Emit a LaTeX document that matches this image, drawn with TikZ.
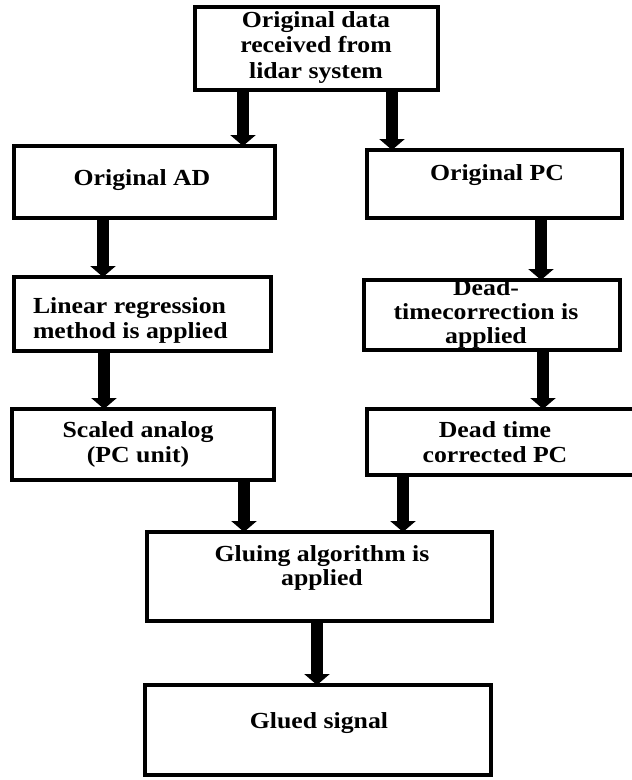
\documentclass[tikz,border=0pt]{standalone}
\usepackage{fontspec}
\setmainfont{Liberation Serif}[FakeStretch=1.12]
\usetikzlibrary{arrows.meta}
\begin{document}
\begin{tikzpicture}[x=1pt,y=-1pt,
  box/.style={draw=black,line width=4pt,rectangle,inner sep=0pt,outer sep=0pt},
  txt/.style={inner sep=0pt,outer sep=0pt,align=center,anchor=base,
    font=\fontsize{23}{25}\selectfont\bfseries},
  arr/.style={line width=12pt,-{Triangle[width=25pt,length=11pt]}}]
\useasboundingbox (0,0) rectangle (632,780);
\clip (0,0) rectangle (632,780);
% boxes
\node[box,minimum width=243pt,minimum height=83pt] (top) at (316.5,48.5) {};
\node[box,minimum width=261pt,minimum height=72pt] (ad) at (144.5,182) {};
\node[box,minimum width=255pt,minimum height=68pt] (pc) at (494.5,184) {};
\node[box,minimum width=257pt,minimum height=74pt] (lin) at (142.5,314) {};
\node[box,minimum width=256pt,minimum height=70pt] (dead) at (492,315) {};
\node[box,minimum width=262pt,minimum height=71pt] (scaled) at (143,444.5) {};
\node[box,minimum width=276pt,minimum height=66pt] (dtc) at (505,442) {};
\node[box,minimum width=345pt,minimum height=89pt] (glu) at (319.5,576.5) {};
\node[box,minimum width=346pt,minimum height=90pt] (glued) at (318,730) {};
% texts (multi-line nodes anchored at the baseline of their last line)
\node[txt,font=\fontsize{23}{25.5}\selectfont\bfseries] (topT) at (316,78) {Original data\\received from\\lidar system};
\node[txt] (adT) at (142,185) {Original AD};
\node[txt] (pcT) at (497,180) {Original PC};
\node[txt,align=left,anchor=base west] (linT) at (33,338) {Linear regression\\method is applied};
\node[txt,font=\fontsize{23}{24}\selectfont\bfseries] (deadT) at (486,343) {Dead-\\timecorrection is\\applied};
\node[txt] (scaledT) at (138,462) {Scaled analog\\(PC unit)};
\node[txt] (dtcT) at (495,462) {Dead time\\corrected PC};
\node[txt,font=\fontsize{23}{23.5}\selectfont\bfseries] (gluT) at (322,585) {Gluing algorithm is\\applied};
\node[txt] (gluedT) at (319,728) {Glued signal};
% arrow columns
\coordinate (c1) at (243,0);
\coordinate (c2) at (392,0);
\coordinate (c3) at (103,0);
\coordinate (c4) at (541,0);
\coordinate (c5) at (104,0);
\coordinate (c6) at (543,0);
\coordinate (c7) at (244,0);
\coordinate (c8) at (403,0);
\coordinate (c9) at (317,0);
% connectors
\draw[arr] (top.south -| c1) -- (ad.north -| c1);
\draw[arr] (top.south -| c2) -- (pc.north -| c2);
\draw[arr] (ad.south -| c3) -- (lin.north -| c3);
\draw[arr] (pc.south -| c4) -- (dead.north -| c4);
\draw[arr] (lin.south -| c5) -- (scaled.north -| c5);
\draw[arr] (dead.south -| c6) -- (dtc.north -| c6);
\draw[arr] (scaled.south -| c7) -- (glu.north -| c7);
\draw[arr] (dtc.south -| c8) -- (glu.north -| c8);
\draw[arr] (glu.south -| c9) -- (glued.north -| c9);
\end{tikzpicture}
\end{document}
